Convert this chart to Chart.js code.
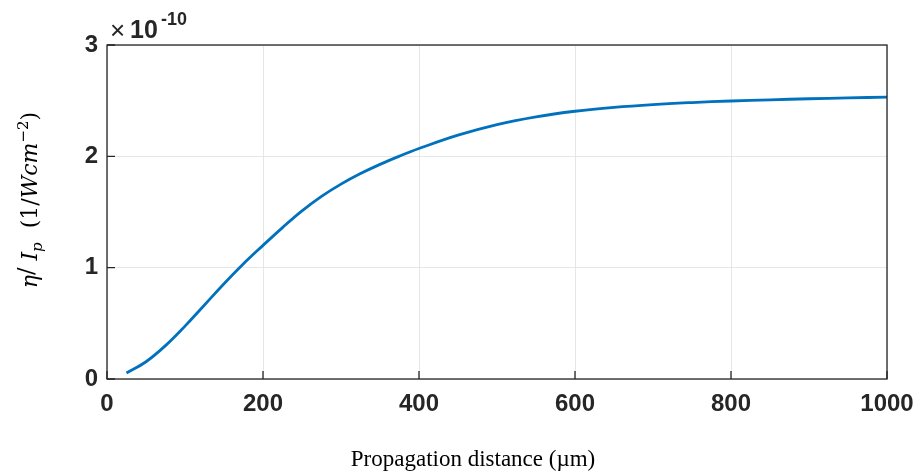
<!DOCTYPE html>
<html>
<head>
<meta charset="utf-8">
<script src="https://cdn.jsdelivr.net/npm/chart.js@4"></script>
<style>
  html, body { margin: 0; padding: 0; background: #fff; }
</style>
</head>
<body>
<canvas id="chart" width="920" height="475"></canvas>
<script>
// propagation distance (um) and eta/Ip (in units of 1e-10 1/(W cm^-2))
const distance = [25, 50, 75, 100, 125, 150, 175, 200, 225, 250, 275, 300, 325, 350, 375, 400,
                  450, 500, 550, 600, 650, 700, 750, 800, 850, 900, 950, 1000];
const etaOverIp = [0.054, 0.155, 0.30, 0.475, 0.665, 0.855, 1.035, 1.20, 1.36, 1.51, 1.64, 1.75, 1.845, 1.928, 2.002, 2.07,
                   2.19, 2.285, 2.355, 2.405, 2.44, 2.465, 2.483, 2.497, 2.508, 2.517, 2.525, 2.532];
const xTicks = [0, 200, 400, 600, 800, 1000];
const yTicks = [0, 1, 2, 3];
const yExponent = '-10';

const axisColor = '#262626';
const tickFont = { family: '"Liberation Sans", Arial, sans-serif', size: 24, weight: 'bold' };

// box, inward ticks, exponent and axis titles
const decorations = {
  id: 'decorations',
  afterDraw(chart) {
    const { ctx, chartArea: a, scales: { x, y } } = chart;
    ctx.save();
    ctx.strokeStyle = axisColor;
    ctx.lineWidth = 1.3;
    ctx.strokeRect(a.left, a.top, a.right - a.left, a.bottom - a.top);
    ctx.beginPath();
    xTicks.forEach(v => {
      const px = x.getPixelForValue(v);
      ctx.moveTo(px, a.bottom);
      ctx.lineTo(px, a.bottom - 8);
    });
    yTicks.forEach(v => {
      const py = y.getPixelForValue(v);
      ctx.moveTo(a.left, py);
      ctx.lineTo(a.left + 8, py);
    });
    ctx.stroke();

    // x10^-10 multiplier
    ctx.fillStyle = axisColor;
    ctx.textBaseline = 'alphabetic';
    ctx.textAlign = 'left';
    ctx.font = '26px "Liberation Sans", Arial, sans-serif';
    ctx.fillText('\u00d7', a.left + 3, a.top - 6);
    ctx.font = 'bold 25px "Liberation Sans", Arial, sans-serif';
    ctx.fillText('10', a.left + 23, a.top - 7);
    ctx.font = 'bold 18px "Liberation Sans", Arial, sans-serif';
    ctx.fillText(yExponent, a.left + 54, a.top - 20);

    // x axis title
    ctx.fillStyle = '#000';
    ctx.textAlign = 'center';
    ctx.font = '23px "Liberation Serif", "Times New Roman", serif';
    ctx.fillText('Propagation distance (\u00b5m)', 473, 466);

    // y axis title, rotated, with sub/superscripts
    const serif = '"DejaVu Serif", "Liberation Serif", serif';
    const parts = [
      { t: '\u03b7', f: 'italic 22px ' + serif, dy: 0 },
      { t: '/', f: '22px ' + serif, dy: -4 },
      { t: ' ', f: '22px ' + serif, dy: 0 },
      { t: 'I', f: 'italic 22px ' + serif, dy: 0 },
      { t: 'p', f: 'italic 15px ' + serif, dy: 5 },
      { t: '  (1/', f: '22px ' + serif, dy: 0 },
      { t: 'Wcm', f: 'italic 22px ' + serif, dy: 0 },
      { t: '\u22122', f: '15px ' + serif, dy: -9 },
      { t: ')', f: '22px ' + serif, dy: 0 }
    ];
    let total = 0;
    parts.forEach(p => { ctx.font = p.f; p.w = ctx.measureText(p.t).width; total += p.w; });
    ctx.translate(37, 200);
    ctx.rotate(-Math.PI / 2);
    ctx.textAlign = 'left';
    let cx = -total / 2;
    parts.forEach(p => {
      ctx.font = p.f;
      ctx.fillText(p.t, cx, p.dy);
      cx += p.w;
    });
    ctx.restore();
  }
};

new Chart(document.getElementById('chart'), {
  type: 'line',
  data: {
    datasets: [{
      data: distance.map((d, i) => ({ x: d, y: etaOverIp[i] })),
      borderColor: '#0072BD',
      borderWidth: 2.8,
      pointRadius: 0,
      fill: false,
      tension: 0.4
    }]
  },
  options: {
    responsive: false,
    animation: false,
    layout: { padding: { left: 0, top: 45, right: 33, bottom: 0 } },
    plugins: { legend: { display: false }, tooltip: { enabled: false } },
    scales: {
      x: {
        type: 'linear',
        min: 0,
        max: 1000,
        afterBuildTicks: s => { s.ticks = xTicks.map(v => ({ value: v })); },
        afterFit: s => { s.height = 96; s.paddingLeft = 0; s.paddingRight = 0; },
        ticks: { color: axisColor, font: tickFont, padding: 11, maxRotation: 0, callback: v => String(v) },
        grid: { color: '#e6e6e6', lineWidth: 1, drawTicks: false },
        border: { display: false },
        title: { display: false }
      },
      y: {
        type: 'linear',
        min: 0,
        max: 3,
        afterBuildTicks: s => { s.ticks = yTicks.map(v => ({ value: v })); },
        afterFit: s => { s.width = 107; s.paddingTop = 0; s.paddingBottom = 0; },
        ticks: { color: axisColor, font: tickFont, padding: 9, callback: v => String(v) },
        grid: { color: '#e6e6e6', lineWidth: 1, drawTicks: false },
        border: { display: false },
        title: { display: false }
      }
    }
  },
  plugins: [decorations]
});
</script>
</body>
</html>
